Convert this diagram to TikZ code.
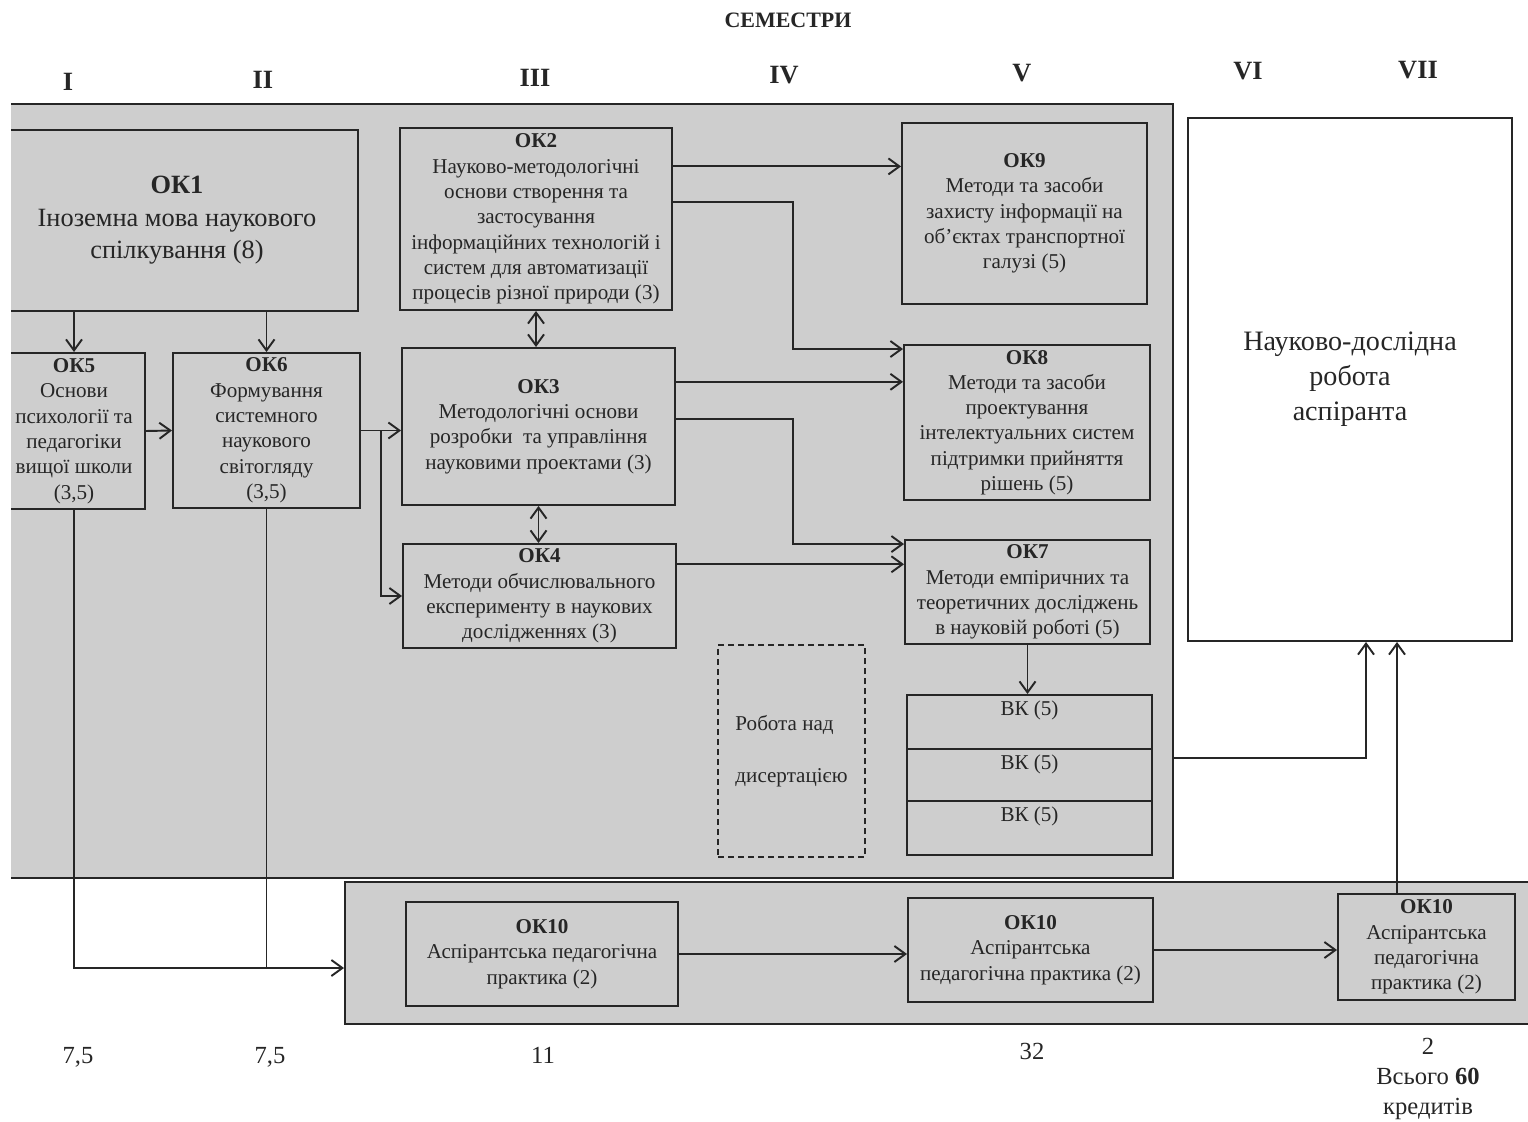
\documentclass[tikz,border=0pt]{standalone}
\usepackage{fontspec}
\setmainfont{Liberation Serif}
\usetikzlibrary{positioning, calc, arrows.meta}
\definecolor{panelgray}{RGB}{206,206,206}
\definecolor{inkgray}{RGB}{38,38,38}

\begin{document}
\begin{tikzpicture}[x=0.2mm, y=-0.2mm,
						box/.style={rectangle, draw=inkgray, line width=1.1pt, align=center, inner sep=0.5pt, text=inkgray, font=\fontsize{12}{14.4}\selectfont},
						panel/.style={rectangle, fill=panelgray, draw=inkgray, line width=1.1pt},
						vktext/.style={anchor=north, inner sep=3.5pt, text=inkgray, font=\fontsize{12}{14.4}\selectfont},
						sem/.style={text=inkgray, font=\fontsize{15}{17}\selectfont\bfseries},
						credit/.style={text=inkgray, align=center, font=\fontsize{14}{17}\selectfont},
						link/.style={->, draw=inkgray, line width=1.1pt},
						every path/.style={>={Straight Barb[length=2.2mm, width=3.2mm]}}]
					\useasboundingbox (0,0) rectangle (1528,1122);
					\begin{scope}
					\clip (11,0) rectangle (1528,1122);
					\node[panel, minimum width=236.6mm, minimum height=154.8mm] (main) at (581.5,491) {};
					\node[panel, minimum width=239mm, minimum height=28.4mm] (prac) at (942.5,953) {};

					\node[text=inkgray, font=\fontsize{12.5}{14}\selectfont\bfseries] (SEM) at (788,20) {СЕМЕСТРИ};
					\node[sem] (S1) at (68,82) {I};
					\node[sem] (S2) at (263,80) {II};
					\node[sem] (S3) at (535,78) {III};
					\node[sem] (S4) at (784,75) {IV};
					\node[sem] (S5) at (1022,73) {V};
					\node[sem] (S6) at (1248,71) {VI};
					\node[sem] (S7) at (1418,70) {VII};

					\node[box, fill=white, minimum width=64.8mm, minimum height=104.6mm, font=\fontsize{16}{20}\selectfont] (NDR) at (1350,379.5) {Науково-дослідна\\робота\\аспіранта};

					\node[box, minimum width=72.4mm, minimum height=36.2mm, font=\fontsize{15}{18.5}\selectfont] (OK1) at (177,220.5) {\textbf{ОК1}\\Іноземна мова наукового\\спілкування (8)};
					\node[box, minimum width=28.4mm, minimum height=31.2mm] (OK5) at (74,431) {\textbf{ОК5}\\Основи\\психології та\\педагогіки\\вищої школи\\(3,5)};
					\node[box, minimum width=37.4mm, minimum height=31mm] (OK6) at (266.5,430.5) {\textbf{ОК6}\\Формування\\системного\\наукового\\світогляду\\(3,5)};
					\node[box, minimum width=54.4mm, minimum height=36.4mm] (OK2) at (536,219) {\textbf{ОК2}\\Науково-методологічні\\основи створення та\\застосування\\інформаційних технологій і\\систем для автоматизації\\процесів різної природи (3)};
					\node[box, minimum width=54.6mm, minimum height=31.4mm] (OK3) at (538.5,426.5) {\textbf{ОК3}\\Методологічні основи\\розробки~ та управління\\науковими проектами (3)};
					\node[box, minimum width=54.6mm, minimum height=20.8mm] (OK4) at (539.5,596) {\textbf{ОК4}\\Методи обчислювального\\експерименту в наукових\\дослідженнях (3)};
					\node[box, minimum width=49mm, minimum height=36.2mm] (OK9) at (1024.5,213.5) {\textbf{ОК9}\\Методи та засоби\\захисту інформації на\\об’єктах транспортної\\галузі (5)};
					\node[box, minimum width=49.2mm, minimum height=31mm] (OK8) at (1027,422.5) {\textbf{ОК8}\\Методи та засоби\\проектування\\інтелектуальних систем\\підтримки прийняття\\рішень (5)};
					\node[box, minimum width=49mm, minimum height=20.8mm] (OK7) at (1027.5,592) {\textbf{ОК7}\\Методи емпіричних та\\теоретичних досліджень\\в науковій роботі (5)};
					\node[box, minimum width=49mm, minimum height=10.8mm, label={[vktext]north:ВК (5)}] (VK1) at (1029.5,722) {};
					\node[box, minimum width=49mm, minimum height=10.4mm, label={[vktext]north:ВК (5)}] (VK2) at (1029.5,775) {};
					\node[box, minimum width=49mm, minimum height=10.8mm, label={[vktext]north:ВК (5)}] (VK3) at (1029.5,828) {};
					\node[box, dash pattern=on 1.2mm off 0.8mm, minimum width=29.4mm, minimum height=42.4mm, align=left, font=\fontsize{12}{29.5}\selectfont] (DIS) at (791.5,751) {Робота над\\дисертацією};

					\node[box, minimum width=54.4mm, minimum height=20.8mm] (OK10a) at (542,954) {\textbf{ОК10}\\Аспірантська педагогічна\\практика (2)};
					\node[box, minimum width=49mm, minimum height=20.8mm] (OK10b) at (1030.5,950) {\textbf{ОК10}\\Аспірантська\\педагогічна практика (2)};
					\node[box, minimum width=35.4mm, minimum height=21.2mm] (OK10c) at (1426.5,947) {\textbf{ОК10}\\Аспірантська\\педагогічна\\практика (2)};

					\node[credit] (C1) at (78,1057) {7,5};
					\node[credit] (C2) at (270,1057) {7,5};
					\node[credit] (C3) at (543,1055) {11};
					\node[credit] (C4) at (1032,1051) {32};
					\node[credit] (C5) at (1428,1079) {2\\Всього \textbf{60}\\кредитів};

					\draw[link] (OK5.north |- OK1.south) -- (OK5.north);
					\draw[link] (OK6.north |- OK1.south) -- (OK6.north);
					\draw[link] (OK5.east) -- (OK6.west);
					\coordinate (split) at ($(OK6.east)!0.5!(OK3.west |- OK6.east)$);
					\draw[link] (OK6.east) -- (OK3.west |- OK6.east);
					\draw[link] (split) |- (OK4.west);
					\draw[link, <->] (OK2.south) -- (OK2.south |- OK3.north);
					\draw[link, <->] (OK3.south) -- (OK3.south |- OK4.north);
					\draw[link] (OK2.21) -- (OK2.21 -| OK9.west);
					\draw[link] (OK2.7) -- ++(120,0) |- ([yshift=-1mm]OK8.north west);
					\draw[link] (OK3.18) -- (OK3.18 -| OK8.west);
					\draw[link] (OK3.3) -- ++(117,0) |- ([yshift=-1mm]OK7.north west);
					\draw[link] (OK4.13) -- (OK4.13 -| OK7.west);
					\draw[link] (OK7.south) -- (OK7.south |- VK1.north);
					\coordinate (out) at ($(main.east |- VK1.south)+(0,8)$);
					\draw[link] (out) -| ([xshift=3.2mm]NDR.south);
					\coordinate (up) at ($(OK10c.north)+(-29.5,0)$);
					\draw[link] (up) -- (up |- NDR.south);
					\coordinate (join) at ($(prac.west)+(0,15)$);
					\draw[link] (OK5.south) |- (join);
					\draw[link, -] (OK6.south) -- (OK6.south |- join);
					\draw[link] (OK10a.east) -- (OK10a.east -| OK10b.west);
					\draw[link] (OK10b.east) -- (OK10b.east -| OK10c.west);
					\end{scope}
				\end{tikzpicture}
\end{document}
